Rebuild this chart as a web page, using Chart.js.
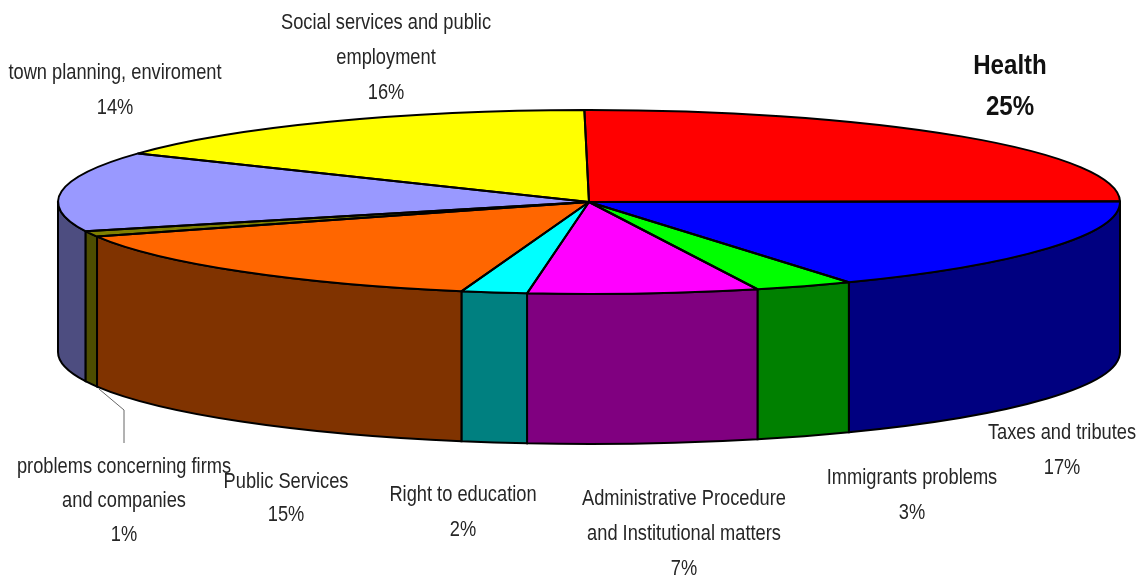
<!DOCTYPE html>
<html>
<head>
<meta charset="utf-8">
<style>
  html, body { margin: 0; padding: 0; background: #fff; }
  canvas { display: block; }
</style>
<script src="https://cdn.jsdelivr.net/npm/chart.js@4"></script>
</head>
<body>
<canvas id="topicsPie" width="1136" height="577"></canvas>
<script>
const categories = [
    ['Health'],
    ['Taxes and tributes'],
    ['Immigrants problems'],
    ['Administrative Procedure', 'and Institutional matters'],
    ['Right to education'],
    ['Public Services'],
    ['problems concerning firms', 'and companies'],
    ['town planning, enviroment'],
    ['Social services and public', 'employment']
];
const shares = [25, 17, 3, 7, 2, 15, 1, 14, 16];
const topColors = ['#ff0000', '#0000ff', '#00ff00', '#ff00ff', '#00ffff', '#ff6600', '#808000', '#9999ff', '#ffff00'];
const sideColors = ['#800000', '#000080', '#008000', '#800080', '#008080', '#803300', '#4d4d00', '#4d4d80', '#808000'];

// center of each label block and the y of its first line
const labelSpots = [
    [1010, 66], [1062, 433], [912, 478], [684, 499], [463, 495],
    [286, 482], [124, 467], [115, 73], [386, 23]
];
const lineGap = [41, 35, 35, 35, 35, 33, 34, 35, 35];
const leaderLine = [[99, 389], [124, 410], [124, 443]];

// the flattened pie on screen
const pie = { x: 589, y: 202, rx: 531, ry: 92, depth: 150 };

function outlineSide(ctx, from, to) {
    ctx.beginPath();
    ctx.ellipse(pie.x, pie.y, pie.rx, pie.ry, 0, from, to);
    ctx.ellipse(pie.x, pie.y + pie.depth, pie.rx, pie.ry, 0, to, from, true);
    ctx.closePath();
}

function drawLabel(ctx, index) {
    const bold = index === 0;
    const lines = categories[index].concat(shares[index] + '%');
    ctx.save();
    ctx.font = (bold ? 'bold 28px' : '22px') + ' "Liberation Sans", Arial, sans-serif';
    ctx.fillStyle = bold ? '#111' : '#262626';
    ctx.textAlign = 'center';
    ctx.textBaseline = 'middle';
    lines.forEach((line, n) => {
        ctx.save();
        ctx.translate(labelSpots[index][0], labelSpots[index][1] + n * lineGap[index]);
        ctx.scale(bold ? 0.86 : 0.83, 1);
        ctx.fillText(line, 0, 0);
        ctx.restore();
    });
    ctx.restore();
}

const flatPie = {
    id: 'flatPie',
    beforeDatasetsDraw(chart) {
        const ctx = chart.ctx;
        const arcs = chart.getDatasetMeta(0).data;

        //Side wall, only the part of each slice facing the viewer
        ctx.save();
        ctx.strokeStyle = '#000';
        ctx.lineWidth = 2;
        arcs.forEach((arc, i) => {
            const from = Math.max(arc.startAngle, 0);
            const to = Math.min(arc.endAngle, Math.PI);
            if (to > from) {
                outlineSide(ctx, from, to);
                ctx.fillStyle = sideColors[i];
                ctx.fill();
                ctx.stroke();
            }
        });
        ctx.restore();

        //Squash the library's round pie down to the top face
        const first = arcs[0];
        ctx.save();
        ctx.translate(pie.x, pie.y);
        ctx.scale(pie.rx / first.outerRadius, pie.ry / first.outerRadius);
        ctx.translate(-first.x, -first.y);
    },
    afterDatasetsDraw(chart) {
        const ctx = chart.ctx;
        ctx.restore();

        //Slice outlines go on after the restore so the line width stays even
        ctx.save();
        ctx.strokeStyle = '#000';
        ctx.lineWidth = 2;
        ctx.lineJoin = 'round';
        chart.getDatasetMeta(0).data.forEach(arc => {
            ctx.beginPath();
            ctx.moveTo(pie.x, pie.y);
            ctx.ellipse(pie.x, pie.y, pie.rx, pie.ry, 0, arc.startAngle, arc.endAngle);
            ctx.closePath();
            ctx.stroke();
        });

        ctx.strokeStyle = '#666';
        ctx.lineWidth = 1;
        ctx.beginPath();
        leaderLine.forEach(([x, y], i) => i ? ctx.lineTo(x, y) : ctx.moveTo(x, y));
        ctx.stroke();
        ctx.restore();

        categories.forEach((name, i) => drawLabel(ctx, i));
    }
};

new Chart(document.getElementById('topicsPie').getContext('2d'), {
    type: 'pie',
    data: {
        labels: categories.map(lines => lines.join(' ')),
        datasets: [{
            data: shares,
            backgroundColor: topColors,
            borderWidth: 0
        }]
    },
    options: {
        responsive: false,
        animation: false,
        rotation: -0.5,
        plugins: {
            legend: { display: false },
            tooltip: { enabled: false }
        }
    },
    plugins: [flatPie]
});
</script>
</body>
</html>
